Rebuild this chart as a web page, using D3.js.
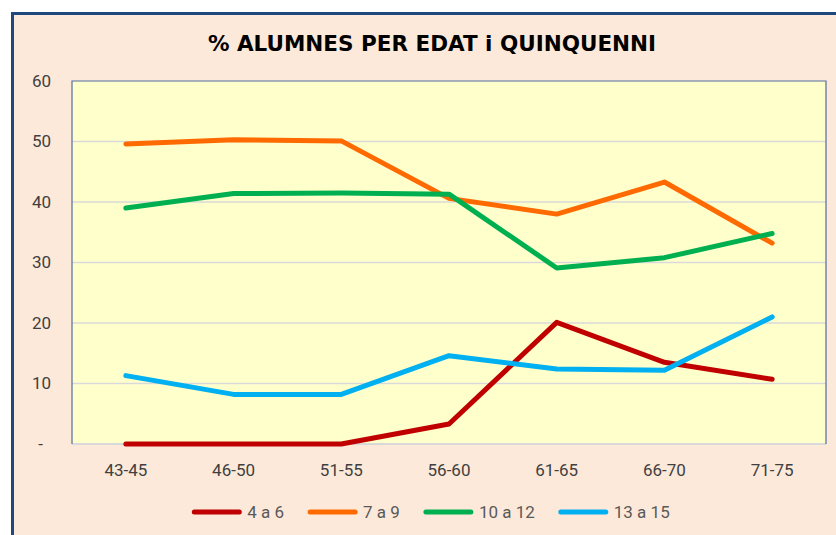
<!DOCTYPE html>
<html>
<head>
<meta charset="utf-8">
<script src="https://cdn.jsdelivr.net/npm/d3@7"></script>
<style>
  body { margin: 0; background: #ffffff; }
  svg text { font-family: Roboto, "Noto Sans", sans-serif; }
</style>
</head>
<body>
<div id="chart"></div>
<script>
// data
const periods = ['43-45', '46-50', '51-55', '56-60', '61-65', '66-70', '71-75'];
const seriesNames = ['4 a 6', '7 a 9', '10 a 12', '13 a 15'];
const seriesColors = ['#c00000', '#ff6a00', '#00b050', '#00b0f0'];
const age4to6 = [0, 0, 0, 3.3, 20.1, 13.5, 10.7];
const age7to9 = [49.6, 50.3, 50.1, 40.6, 38.0, 43.3, 33.2];
const age10to12 = [39.0, 41.4, 41.5, 41.3, 29.1, 30.8, 34.8];
const age13to15 = [11.3, 8.2, 8.2, 14.6, 12.4, 12.2, 21.0];
const yTicks = [0, 10, 20, 30, 40, 50, 60];

const allSeries = [age4to6, age7to9, age10to12, age13to15];

const W = 836, H = 535;
const plot = { left: 72, top: 81, right: 826, bottom: 444 };

const svg = d3.select('#chart')
  .append('svg')
  .attr('width', W)
  .attr('height', H);

// outer chart frame (runs off the right and bottom edge)
svg.append('rect')
  .attr('x', 12.5).attr('y', 13.5)
  .attr('width', 900).attr('height', 600)
  .attr('fill', '#fde9d9')
  .attr('stroke', '#1f497d')
  .attr('stroke-width', 3);

// title
svg.append('text')
  .attr('x', 432).attr('y', 51)
  .attr('text-anchor', 'middle')
  .style('font-family', '"DejaVu Sans", Verdana, sans-serif')
  .style('font-weight', 'bold')
  .style('font-size', '21.5px')
  .attr('fill', '#000')
  .text('% ALUMNES PER EDAT i QUINQUENNI');

const x = d3.scaleBand()
  .domain(periods)
  .range([plot.left, plot.right]);

const y = d3.scaleLinear()
  .domain([0, 60])
  .range([plot.bottom, plot.top]);

// plot area
svg.append('rect')
  .attr('x', plot.left).attr('y', plot.top)
  .attr('width', plot.right - plot.left)
  .attr('height', plot.bottom - plot.top)
  .attr('fill', '#ffffcc');

// gridlines
svg.append('g')
  .selectAll('line')
  .data(yTicks.filter(d => d > 0 && d < 60))
  .enter()
  .append('line')
  .attr('x1', plot.left).attr('x2', plot.right)
  .attr('y1', d => y(d)).attr('y2', d => y(d))
  .attr('stroke', '#d9d9d9')
  .attr('stroke-width', 1.5);

// bottom axis line
svg.append('line')
  .attr('x1', plot.left).attr('x2', plot.right)
  .attr('y1', plot.bottom).attr('y2', plot.bottom)
  .attr('stroke', '#d9d9d9')
  .attr('stroke-width', 2);

// plot border: left, top, right
svg.append('path')
  .attr('d', `M${plot.left},${plot.bottom}V${plot.top}H${plot.right}V${plot.bottom}`)
  .attr('fill', 'none')
  .attr('stroke', '#4f6f9f')
  .attr('stroke-width', 1.2);

// y axis
const yAxis = svg.append('g')
  .attr('transform', `translate(${plot.left}, 0)`)
  .call(d3.axisLeft(y).tickValues(yTicks).tickSize(0).tickPadding(21)
    .tickFormat(d => (d === 0 ? '-' : d)));
yAxis.select('.domain').remove();
yAxis.selectAll('text')
  .style('font-size', '17px')
  .attr('fill', '#404040')
  .attr('dx', d => (d === 0 ? -8 : 0));

// x axis
const xAxis = svg.append('g')
  .attr('transform', `translate(0, ${plot.bottom})`)
  .call(d3.axisBottom(x).tickSize(0).tickPadding(20));
xAxis.select('.domain').remove();
xAxis.selectAll('text')
  .style('font-size', '17px')
  .attr('fill', '#404040');

// lines
const line = d3.line()
  .x((d, i) => x(periods[i]) + x.bandwidth() / 2)
  .y(d => y(d));

svg.append('g')
  .selectAll('path')
  .data(allSeries)
  .enter()
  .append('path')
  .attr('d', d => line(d))
  .attr('fill', 'none')
  .attr('stroke', (d, i) => seriesColors[i])
  .attr('stroke-width', 5)
  .attr('stroke-linecap', 'round')
  .attr('stroke-linejoin', 'round');

// legend
const legend = svg.append('g');
const items = legend.selectAll('g')
  .data(seriesNames)
  .enter()
  .append('g');
items.append('line')
  .attr('x1', 0).attr('x2', 45)
  .attr('y1', 0).attr('y2', 0)
  .attr('stroke', (d, i) => seriesColors[i])
  .attr('stroke-width', 5)
  .attr('stroke-linecap', 'round');
items.append('text')
  .attr('x', 53).attr('y', 6)
  .style('font-size', '17px')
  .attr('fill', '#595959')
  .text(d => d);

let pos = 0;
const widths = [];
items.each(function () {
  const w = 53 + this.querySelector('text').getComputedTextLength();
  widths.push(w);
});
const gap = 26;
const total = d3.sum(widths) + gap * (widths.length - 1);
const startX = 432 - total / 2;
items.attr('transform', (d, i) => {
  const tx = startX + pos;
  pos += widths[i] + gap;
  return `translate(${tx}, 512)`;
});
</script>
</body>
</html>
